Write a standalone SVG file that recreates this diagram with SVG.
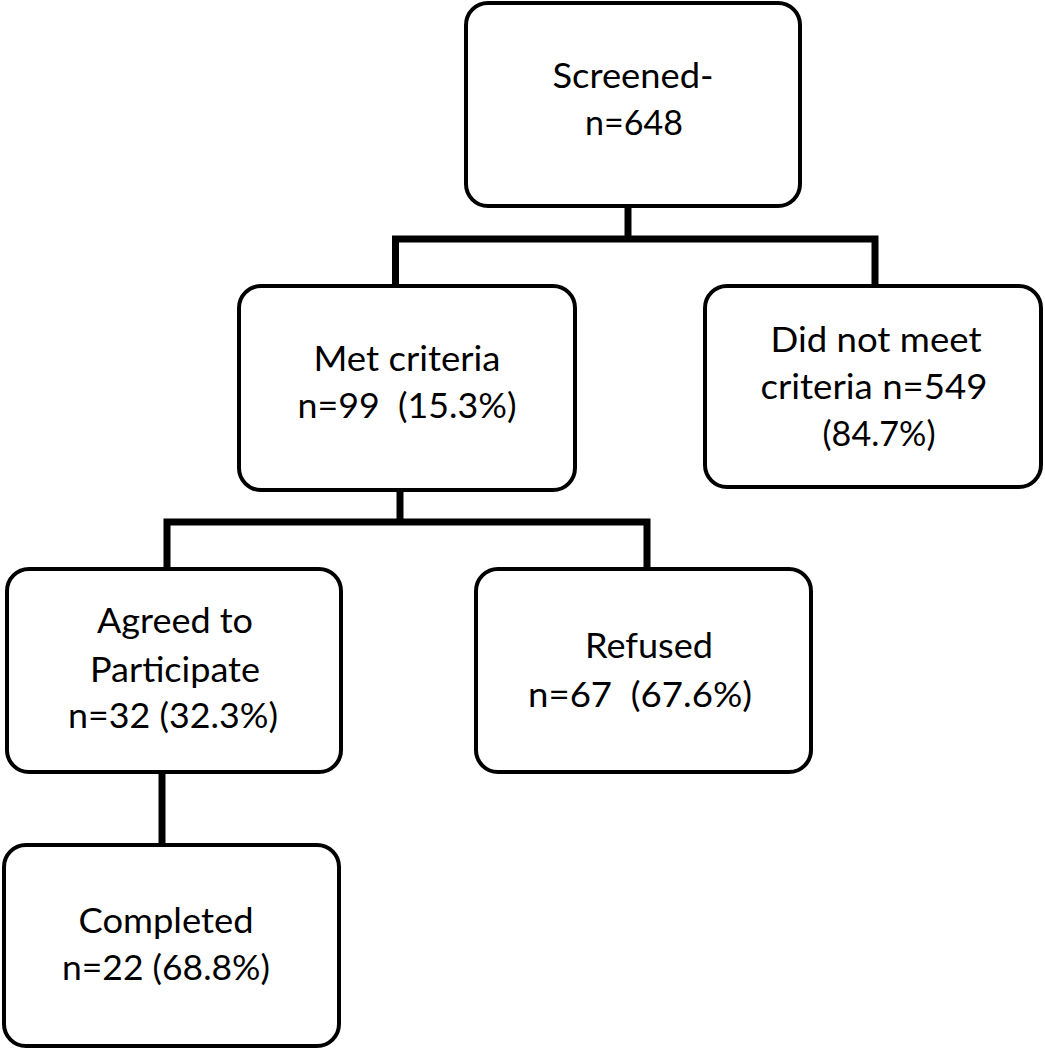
<svg xmlns="http://www.w3.org/2000/svg" width="1045" height="1050" viewBox="0 0 1045 1050">
<style>
.box{fill:#fff;stroke:#000;stroke-width:4}
.lbl{font-family:Lato,"Open Sans","Liberation Sans",sans-serif;font-size:35px;fill:#000;text-anchor:middle}
.conn{fill:none;stroke:#000;stroke-width:7;stroke-linejoin:miter;stroke-linecap:butt}
</style>
<rect width="1045" height="1050" fill="#fff"/>
<g id="connectors">
<path class="conn" d="M628 207 V239"/>
<path class="conn" d="M395.5 286 V239 H875 V286"/>
<path class="conn" d="M400 490 V522"/>
<path class="conn" d="M167 569 V522 H647 V569"/>
<path class="conn" d="M162 772 V845"/>
</g>
<g id="screened">
<rect class="box" x="466" y="3" width="334" height="203" rx="22"/>
<text class="lbl" x="633" y="88" textLength="161" lengthAdjust="spacingAndGlyphs">Screened-</text>
<text class="lbl" x="634" y="135" textLength="98" lengthAdjust="spacingAndGlyphs">n=648</text>
</g>
<g id="met-criteria">
<rect class="box" x="239" y="286" width="336" height="204" rx="22"/>
<text class="lbl" x="407" y="371" textLength="187" lengthAdjust="spacingAndGlyphs">Met criteria</text>
<text class="lbl" x="407" y="418" xml:space="preserve" textLength="219" lengthAdjust="spacingAndGlyphs">n=99  (15.3%)</text>
</g>
<g id="did-not-meet">
<rect class="box" x="705" y="286" width="336" height="201" rx="22"/>
<text class="lbl" x="876" y="352" textLength="211" lengthAdjust="spacingAndGlyphs">Did not meet</text>
<text class="lbl" x="874" y="399" textLength="227" lengthAdjust="spacingAndGlyphs">criteria n=549</text>
<text class="lbl" x="879" y="446" textLength="113" lengthAdjust="spacingAndGlyphs">(84.7%)</text>
</g>
<g id="agreed">
<rect class="box" x="7" y="569" width="334" height="203" rx="22"/>
<text class="lbl" x="175" y="633" textLength="156" lengthAdjust="spacingAndGlyphs">Agreed to</text>
<text class="lbl" x="175" y="682" textLength="170" lengthAdjust="spacingAndGlyphs">Participate</text>
<text class="lbl" x="173" y="728" textLength="210" lengthAdjust="spacingAndGlyphs">n=32 (32.3%)</text>
</g>
<g id="refused">
<rect class="box" x="476" y="569" width="335" height="203" rx="22"/>
<text class="lbl" x="649" y="658" textLength="128" lengthAdjust="spacingAndGlyphs">Refused</text>
<text class="lbl" x="640" y="707" xml:space="preserve" textLength="224" lengthAdjust="spacingAndGlyphs">n=67  (67.6%)</text>
</g>
<g id="completed">
<rect class="box" x="4" y="845" width="335" height="201" rx="22"/>
<text class="lbl" x="166" y="933" textLength="175" lengthAdjust="spacingAndGlyphs">Completed</text>
<text class="lbl" x="166" y="980" textLength="208" lengthAdjust="spacingAndGlyphs">n=22 (68.8%)</text>
</g>
</svg>
